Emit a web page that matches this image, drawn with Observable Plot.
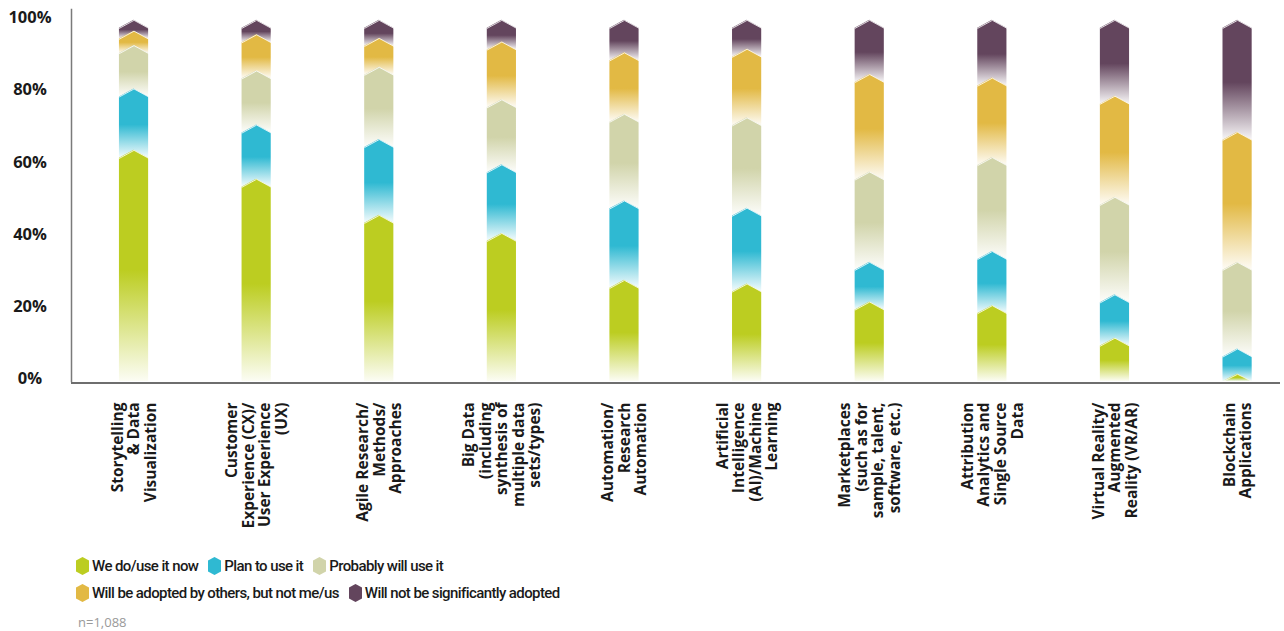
<!DOCTYPE html>
<html>
<head>
<meta charset="utf-8">
<script src="https://cdn.jsdelivr.net/npm/d3@7"></script>
<script src="https://cdn.jsdelivr.net/npm/@observablehq/plot@0.6"></script>
<style>
  body { margin: 0; background: #fff; }
  #chart svg { display: block; }
  .legend {
    padding-left: 76px;
    margin-top: 2px;
    font-family: Roboto, "Liberation Sans", Arial, sans-serif;
    font-size: 15px;
    font-weight: 500;
    letter-spacing: -0.6px;
    color: #1a1a1a;
  }
  .legend .row { height: 27px; display: flex; align-items: center; }
  .legend .item { display: flex; align-items: center; margin-right: 10px; }
  .legend .item svg { margin-right: 3px; display: block; }
  .note {
    padding-left: 78px;
    margin-top: 8px;
    font-family: "Open Sans", sans-serif;
    font-size: 13px;
    line-height: 16px;
    color: #9a9a9a;
  }
</style>
</head>
<body>
<div id="chart"></div>
<div class="legend" id="legend"></div>
<div class="note">n=1,088</div>
<script>
// Technologies surveyed (x axis)
const categories = [
  "Storytelling\n& Data\nVisualization",
  "Customer\nExperience (CX)/\nUser Experience\n(UX)",
  "Agile Research/\nMethods/\nApproaches",
  "Big Data\n(including\nsynthesis of\nmultiple data\nsets/types)",
  "Automation/\nResearch\nAutomation",
  "Artificial\nIntelligence\n(AI)/Machine\nLearning",
  "Marketplaces\n(such as for\nsample, talent,\nsoftware, etc.)",
  "Attribution\nAnalytics and\nSingle Source\nData",
  "Virtual Reality/\nAugmented\nReality (VR/AR)",
  "Blockchain\nApplications"
];

// Share of respondents (%) per answer, stacked bottom to top
const weUseNow        = [64, 56, 46, 41, 28, 27, 22, 21, 12,  2];
const planToUse       = [17, 15, 21, 19, 22, 21, 11, 15, 12,  7];
const probablyWillUse = [12, 15, 20, 18, 24, 25, 25, 26, 27, 24];
const adoptedByOthers = [ 4, 10,  8, 16, 17, 19, 27, 22, 28, 36];
const notAdopted      = [ 3,  4,  5,  6,  9,  8, 15, 16, 21, 31];

const seriesNames = [
  "We do/use it now",
  "Plan to use it",
  "Probably will use it",
  "Will be adopted by others, but not me/us",
  "Will not be significantly adopted"
];
const seriesColors = ["#bccd21", "#2fb9d2", "#d1d4aa", "#e2b944", "#63455d"];
const seriesValues = [weUseNow, planToUse, probablyWillUse, adoptedByOthers, notAdopted];

const yTicks = [0, 20, 40, 60, 80, 100];

// Geometry of the arrow-shaped segments
const tip = 2.2;    // height of the pointed top, in % units
const half = 0.119; // half bar width, in category units

// Each stacked segment becomes three top points (left shoulder, apex, right shoulder)
const rows = [];
categories.forEach((c, i) => {
  let a = 0;
  seriesValues.forEach((vals, k) => {
    const b = a + vals[i];
    const bottom = Math.max(0, a - tip);
    const shoulder = Math.max(bottom, b - tip);
    const key = k + "-" + i;
    rows.push({k, key, x: i - half, y1: bottom, y2: shoulder});
    rows.push({k, key, x: i,        y1: bottom, y2: b});
    rows.push({k, key, x: i + half, y1: bottom, y2: shoulder});
    a = b;
  });
});

// Vertical fades: solid at the top of each segment, washing out towards its base
const gradients = () => {
  const defs = d3.create("svg:defs");
  seriesColors.forEach((c, k) => {
    const g = defs.append("linearGradient")
      .attr("id", "fade" + k)
      .attr("x1", 0).attr("y1", 0).attr("x2", 0).attr("y2", 1);
    g.append("stop").attr("offset", 0).attr("stop-color", c);
    g.append("stop").attr("offset", 0.52).attr("stop-color", c);
    g.append("stop").attr("offset", 1).attr("stop-color", c).attr("stop-opacity", 0.05);
  });
  return defs.node();
};

// Draw from the top answer down so each lower point overlaps the fade above it
const segmentMarks = [];
for (let k = seriesValues.length - 1; k >= 0; k--) {
  const part = rows.filter(r => r.k === k);
  segmentMarks.push(
    Plot.areaY(part, {x: "x", y1: "y1", y2: "y2", z: "key", fill: `url(#fade${k})`, curve: "linear"}),
    Plot.line(part, {x: "x", y: "y2", z: "key", stroke: "white", strokeWidth: 1, strokeOpacity: 0.8, curve: "linear"})
  );
}

const chart = Plot.plot({
  width: 1284,
  height: 550,
  marginLeft: 71,
  marginRight: 4,
  marginTop: 9,
  marginBottom: 169,
  style: {fontFamily: "'Open Sans', sans-serif", color: "#1a1a1a", background: "white", overflow: "visible"},
  x: {type: "linear", domain: [-0.51, 9.35]},
  y: {domain: [0, 103]},
  marks: [
    gradients,
    ...segmentMarks,
    Plot.frame({anchor: "left", stroke: "#7a7a7a", strokeWidth: 1.5}),
    Plot.ruleY([0], {stroke: "#6e6e6e", strokeWidth: 2, dy: 1.5}),
    Plot.axisY({
      ticks: yTicks, tickFormat: d => d + "%", tickSize: 0, tickPadding: 41.5, label: null,
      textAnchor: "middle", fontSize: 16.5, fontWeight: 700, dy: -2.5, fill: "#1a1a1a"
    }),
    Plot.axisX({
      ticks: d3.range(categories.length), tickFormat: i => categories[i], label: null,
      tickRotate: -90, tickSize: 0, tickPadding: 21,
      fontSize: 15.5, fontWeight: 700, lineHeight: 1.07, fill: "#1a1a1a"
    })
  ]
});
document.getElementById("chart").append(chart);

// Legend with hexagon swatches
const legend = d3.select("#legend");
const legendRows = [[0, 1, 2], [3, 4]];
legendRows.forEach(ids => {
  const row = legend.append("div").attr("class", "row");
  ids.forEach(k => {
    const item = row.append("div").attr("class", "item");
    const sw = item.append("svg").attr("width", 13).attr("height", 18);
    sw.append("polygon")
      .attr("points", "6.5,0 13,3.5 13,14.5 6.5,18 0,14.5 0,3.5")
      .attr("fill", seriesColors[k]);
    item.append("span").text(seriesNames[k]);
  });
});
</script>
</body>
</html>
